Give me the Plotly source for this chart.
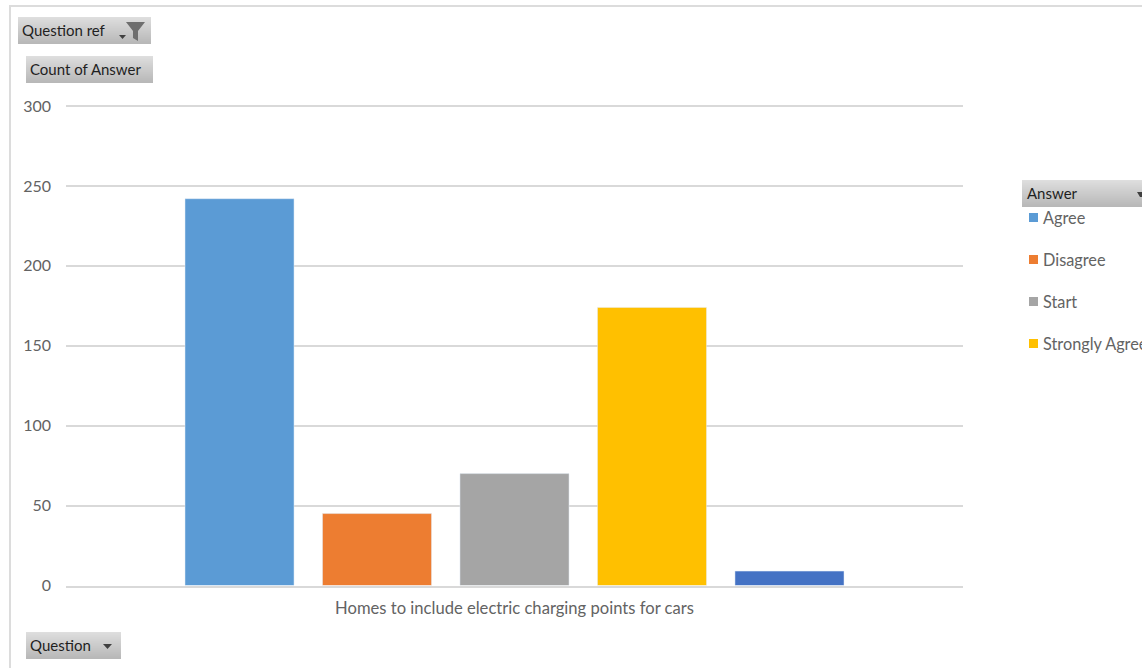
import plotly.graph_objects as go

W, H = 1142, 668
categories = ["Homes to include electric charging points for cars"]
series_names = ["Agree", "Disagree", "Start", "Strongly Agree", "Strongly Disagree"]
series_values = [242, 45, 70, 174, 9]
series_colors = ["#5B9BD5", "#ED7D31", "#A5A5A5", "#FFC000", "#4472C4"]
y_ticks = [0, 50, 100, 150, 200, 250, 300]
legend_title = "Answer"
legend_names = series_names[:4]
FONT = "Lato, Carlito, Calibri, sans-serif"
GREY = "#636363"
DARK = "#1f1f1f"


def px(x):
    return x / W


def py(y):
    return 1 - y / H


def rect(x0, y0, x1, y1, color):
    return dict(type="rect", xref="paper", yref="paper", x0=px(x0), x1=px(x1), y0=py(y0), y1=py(y1),
                fillcolor=color, line_width=0, layer="below")


def poly(points, color):
    path = "M" + " L".join(f"{px(x):.5f},{py(y):.5f}" for x, y in points) + " Z"
    return dict(type="path", xref="paper", yref="paper", path=path, fillcolor=color, line_width=0, layer="above")


def button(x0, y0, x1, y1, text, text_x):
    out = []
    h = y1 - y0
    for i in range(h):
        t = i / max(h - 1, 1)
        v = int(222 - 38 * t)
        out.append(rect(x0, y0 + i, x1, y0 + i + 1, f"rgb({v},{v},{v})"))
    ann = dict(xref="paper", yref="paper", x=px(text_x), y=py((y0 + y1) / 2 - 0.7), text=text, showarrow=False,
               xanchor="left", yanchor="middle", font=dict(family=FONT, size=15, color=DARK))
    return out, ann


fig = go.Figure()
for name, value, color in zip(series_names, series_values, series_colors):
    fig.add_trace(go.Bar(x=categories, y=[value], name=name, marker_color=color, showlegend=False))

shapes = [rect(9, 5, 1142, 7, "#dcdcdc"), rect(9, 5, 11, 668, "#dcdcdc")]
annotations = []
for spec in [(18, 17, 151, 44, "Question ref", 20), (26, 56, 153, 83, "Count of Answer", 28),
             (26, 632, 121, 659, "Question", 28), (1022, 180, 1142, 207, legend_title, 1025)]:
    s, a = button(*spec)
    shapes += s
    annotations.append(a)

# dropdown arrows and filter funnel
shapes.append(poly([(119, 35), (126, 35), (122.5, 39)], "#404040"))
shapes.append(poly([(126, 22), (145, 22), (138, 31), (138, 41), (133, 38), (133, 31)], "#6e6e6e"))
shapes.append(poly([(103, 644), (112, 644), (107.5, 649)], "#404040"))
shapes.append(poly([(1137, 192), (1142, 192), (1142, 197), (1140, 197)], "#404040"))

for i, name in enumerate(legend_names):
    yc = 217 + 42 * i
    shapes.append(rect(1029, yc - 4, 1038, yc + 5, series_colors[i]))
    annotations.append(dict(xref="paper", yref="paper", x=px(1041), y=py(yc), text=name, showarrow=False,
                            xanchor="left", yanchor="middle", font=dict(family=FONT, size=16.3, color=GREY)))

fig.update_layout(
    width=W, height=H, margin=dict(l=0, r=0, t=0, b=0), paper_bgcolor="white", plot_bgcolor="white",
    barmode="group", bargap=0.2336, bargroupgap=0.207,
    font=dict(family=FONT, size=16, color=GREY),
    shapes=shapes, annotations=annotations,
    xaxis=dict(domain=[px(66), px(963)], type="category", showline=True, linecolor="#d9d9d9", linewidth=2,
               automargin=False, ticks="", ticklabelstandoff=7,
               tickfont=dict(family=FONT, size=16.6, color=GREY)),
    yaxis=dict(domain=[py(585.5), py(104)], range=[0, 301.25], tickvals=y_ticks, showgrid=True, gridcolor="#d9d9d9",
               gridwidth=2, zeroline=False, automargin=False, ticks="", ticklabelstandoff=14,
               tickfont=dict(family=FONT, size=16, color=GREY)),
)
fig.write_html("out.html", config=dict(displayModeBar=False),
               post_script="document.body.style.margin='0';document.body.style.overflow='hidden';")
